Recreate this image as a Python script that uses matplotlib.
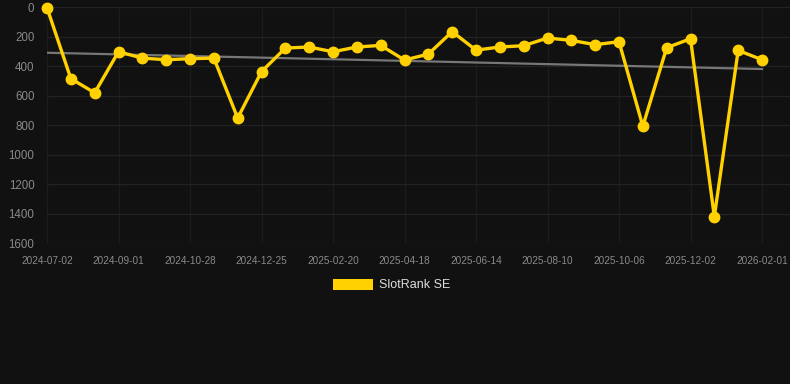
import numpy as np
import matplotlib
matplotlib.use("Agg")
import matplotlib.pyplot as plt
from matplotlib.patches import Rectangle

# Data
rank_values = [5, 485, 581, 303, 346, 357, 350, 346, 752, 438, 278, 271, 303, 271, 260,
               359, 319, 167, 292, 271, 262, 210, 226, 255, 235, 807, 276, 215, 1419, 294, 357]
tick_labels = ["2024-07-02", "2024-09-01", "2024-10-28", "2024-12-25", "2025-02-20",
               "2025-04-18", "2025-06-14", "2025-08-10", "2025-10-06", "2025-12-02", "2026-02-01"]
series_name = "SlotRank SE"

BG = "#111111"
GOLD = "#FFD100"
TICK = "#8a8a8a"

plt.rcParams['font.family'] = ['Liberation Sans', 'DejaVu Sans']

W, H = 790, 384
fig = plt.figure(figsize=(W / 100, H / 100), dpi=100, facecolor=BG)
left, right, top, bottom = 47, 790, 7, 243.3
ax = fig.add_axes([left / W, 1 - bottom / H, (right - left) / W, (bottom - top) / H])
ax.set_facecolor(BG)

x = np.arange(len(rank_values))
n = len(rank_values)
xmax = (right - left) / ((762 - 47) / (n - 1))
ax.set_xlim(0, xmax)
ax.set_ylim(1600, 0)

# trend line (linear regression)
coef = np.polyfit(x, rank_values, 1)
ax.plot([x[0], x[-1]], np.polyval(coef, [x[0], x[-1]]), color="#777777", lw=1.6, zorder=2)

ax.plot(x, rank_values, color=GOLD, lw=2.4, marker="o", markersize=7.5,
        markerfacecolor=GOLD, markeredgecolor=GOLD, zorder=3, clip_on=False)

tick_pos = x[::3]
ax.set_xticks(tick_pos)
ax.set_xticklabels(tick_labels)
ax.set_yticks(np.arange(0, 1601, 200))
ax.tick_params(axis="x", colors=TICK, labelsize=7.2, length=0, pad=9)
ax.tick_params(axis="y", colors=TICK, labelsize=8.3, length=0, pad=9)
for lbl in ax.get_xticklabels() + ax.get_yticklabels():
    lbl.set_color(TICK)
ax.grid(True, axis="y", color="#222222", lw=0.9)
ax.grid(True, axis="x", color="#1c1c1c", lw=0.9)
ax.set_axisbelow(True)
for s in ax.spines.values():
    s.set_visible(False)

# legend
fig.patches.append(Rectangle((333 / W, 1 - 290 / H), 40 / W, 11.5 / H,
                             transform=fig.transFigure, facecolor=GOLD, edgecolor="none"))
fig.text(379 / W, 1 - 284.5 / H, series_name, color="#dddddd", fontsize=9, va="center", ha="left")

fig.savefig("out.png", dpi=100, facecolor=BG)
